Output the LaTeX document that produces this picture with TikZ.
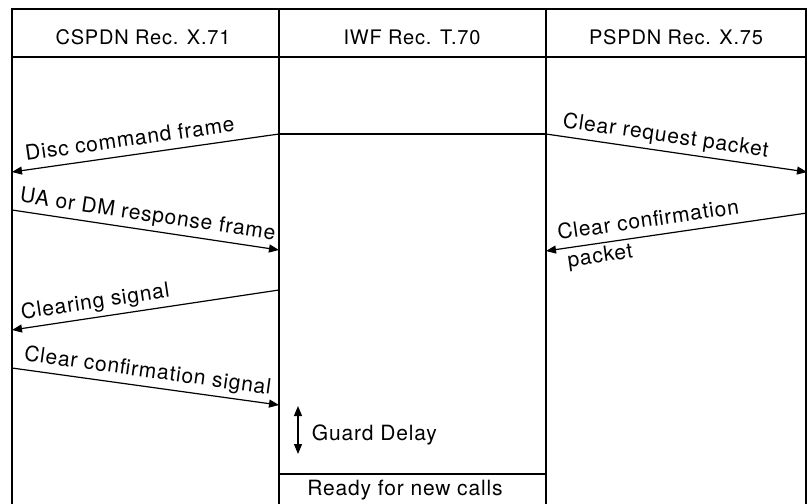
\documentclass[tikz,border=0pt]{standalone}
\usepackage{fontspec}
\setmainfont{TeX Gyre Heros}[LetterSpace=4]
\usetikzlibrary{arrows.meta}
\begin{document}
\begin{tikzpicture}[x=1pt,y=-1pt,line width=1.2pt,
    font=\fontsize{21}{25}\selectfont,
    msg/.style={-{Triangle[length=10pt,width=8pt]}},
    head/.style={anchor=base,font=\fontsize{20}{24}\selectfont},
    lbl/.style={sloped,inner sep=3.5pt,text height=10pt,text depth=5pt}]
\useasboundingbox (0,0) rectangle (807,504);

% 枠と列
\draw (12,504) -- (12,9) -- (806,9) -- (806,504);
\draw (12,57) -- (806,57);
\draw (279,9) -- (279,504);
\draw (546,9) -- (546,504);

% 見出し
\node[head] (cspdn) at (143,44) {CSPDN Rec. X.71};
\node[head] (iwf) at (412,44) {IWF Rec. T.70};
\node[head] (pspdn) at (676,44) {PSPDN Rec. X.75};

% 線上の点
\coordinate (iwfL1) at (279,134);
\coordinate (iwfR1) at (546,134);
\coordinate (csp1) at (12,172);
\coordinate (psp1) at (807,172);
\coordinate (csp2) at (12,210);
\coordinate (iwfL2) at (279,250);
\coordinate (psp2) at (807,213);
\coordinate (iwfR2) at (546,251);
\coordinate (iwfL3) at (279,290);
\coordinate (csp3) at (12,330);
\coordinate (csp4) at (12,368);
\coordinate (iwfL4) at (279,405);

% IWF内の線
\draw (iwfL1) -- (iwfR1);
\draw (279,474) -- (546,474);

% メッセージの矢印
\draw[msg] (iwfL1) -- (csp1) node[lbl,above,pos=0.55] (disc) {Disc command frame};
\draw[msg] (iwfR1) -- (psp1) node[lbl,above,pos=0.45] (clrreq) {Clear request packet};
\draw[msg] (csp2) -- (iwfL2) node[lbl,above,pos=0.5] (ua) {UA or DM response frame};
\draw[msg] (psp2) -- (iwfR2) node[lbl,above,pos=0.6] (clrconf) {Clear confirmation}
    node[lbl,below,pos=0.8,text height=15pt,text depth=2pt] (pkt) {packet};
\draw[msg] (iwfL3) -- (csp3) node[lbl,above,pos=0.68] (clring) {Clearing signal};
\draw[msg] (csp4) -- (iwfL4) node[lbl,above,pos=0.5] (clrsig) {Clear confirmation signal};

% ガード遅延
\node[anchor=base west] (guard) at (308,440) {Guard Delay};
\draw[{Triangle[length=10pt,width=8pt]}-{Triangle[length=10pt,width=8pt]}] (298,406) -- (298,454);
\node[anchor=base] (ready) at (405,495) {Ready for new calls};
\end{tikzpicture}
\end{document}
